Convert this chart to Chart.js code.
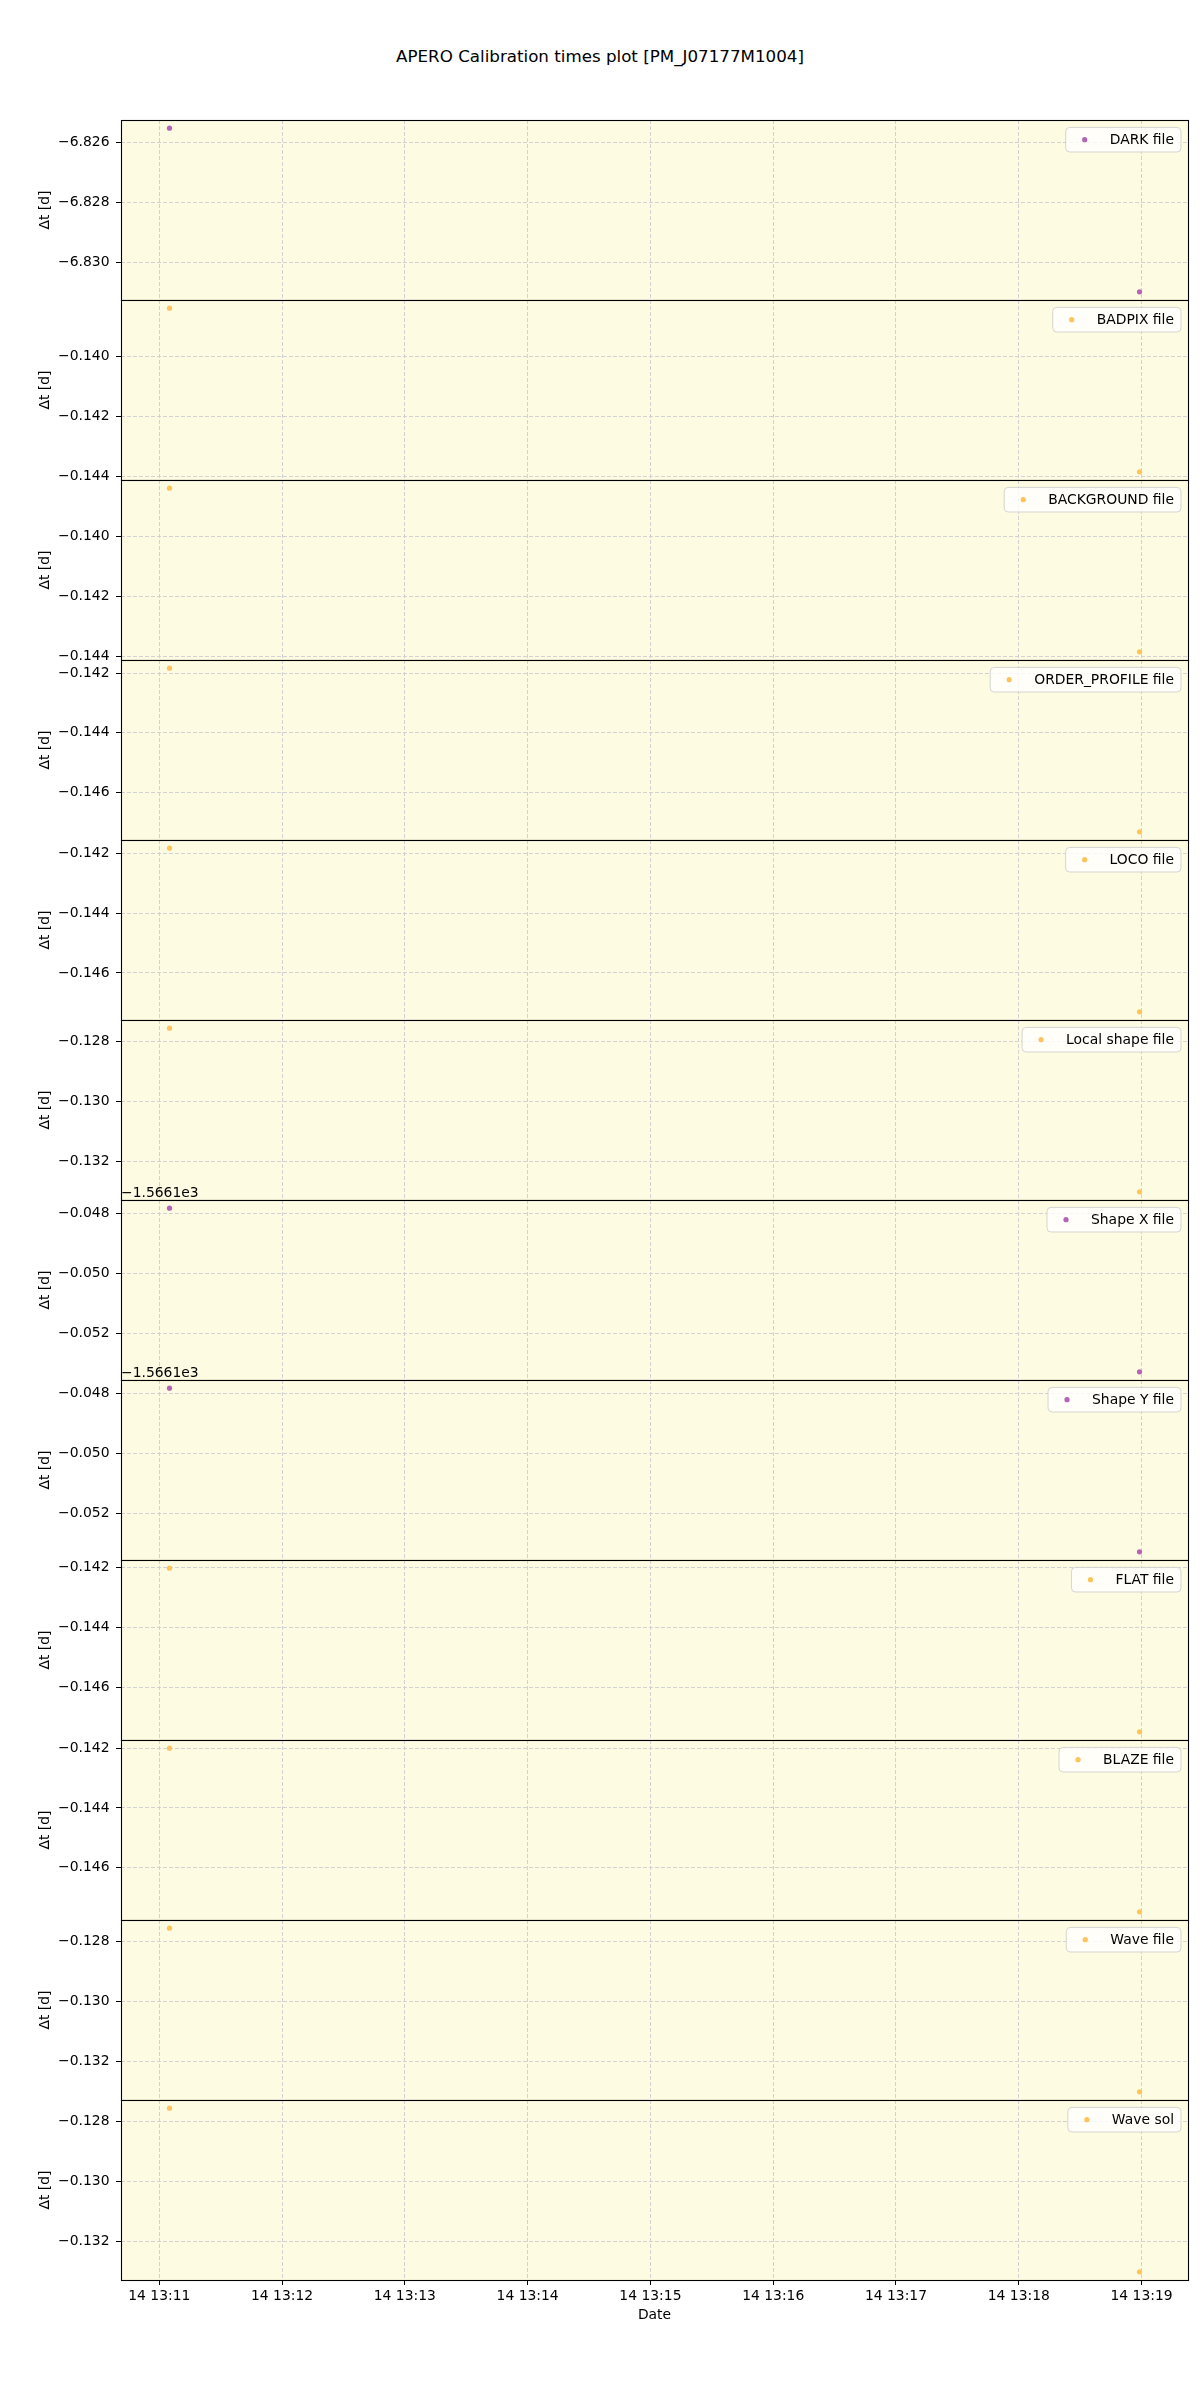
<!doctype html>
<html lang="en">
  <head>
    <title>APERO Calibration times plot</title>
    <meta charset="utf-8" />
    <style>
      body {
        margin: 0;
        background: #ffffff;
      }
      #page {
        position: relative;
        width: 1200px;
        height: 2400px;
      }
      #title {
        position: absolute;
        top: 45px;
        left: 0;
        width: 1200px;
        text-align: center;
        font-family: "DejaVu Sans", sans-serif;
        font-size: 16.7px;
        line-height: 22px;
        color: #000;
      }
      canvas {
        position: absolute;
        left: 0;
      }
    </style>
  </head>

  <body>
    <div id="page">
      <div id="title">APERO Calibration times plot [PM_J07177M1004]</div>
    </div>

    <script src="https://cdn.jsdelivr.net/npm/chart.js@4.4.1/dist/chart.umd.min.js"></script>
    <script>
      // one panel per calibration file, two observations each
      const fileLabels = [
        "DARK file", "BADPIX file", "BACKGROUND file", "ORDER_PROFILE file",
        "LOCO file", "Local shape file", "Shape X file", "Shape Y file",
        "FLAT file", "BLAZE file", "Wave file", "Wave sol",
      ];
      const markerColors = [
        "#b464b4", "#fdc45c", "#fdc45c", "#fdc45c",
        "#fdc45c", "#fdc45c", "#b464b4", "#b464b4",
        "#fdc45c", "#fdc45c", "#fdc45c", "#fdc45c",
      ];
      const pointTimes = ["13:11:05", "13:18:59"];
      const firstDt = [
        -6.82551, -0.13838, -0.13838, -0.14183,
        -0.14183, -0.12755, -1566.14783, -1566.14783,
        -0.14202, -0.14200, -0.12755, -0.12755,
      ];
      const lastDt = [
        -6.83099, -0.14384, -0.14384, -0.14733,
        -0.14730, -0.13302, -1566.15328, -1566.15328,
        -0.14749, -0.14748, -0.13300, -0.13300,
      ];
      const yTickLabels = [
        ["−6.826", "−6.828", "−6.830"],
        ["−0.140", "−0.142", "−0.144"],
        ["−0.140", "−0.142", "−0.144"],
        ["−0.142", "−0.144", "−0.146"],
        ["−0.142", "−0.144", "−0.146"],
        ["−0.128", "−0.130", "−0.132"],
        ["−0.048", "−0.050", "−0.052"],
        ["−0.048", "−0.050", "−0.052"],
        ["−0.142", "−0.144", "−0.146"],
        ["−0.142", "−0.144", "−0.146"],
        ["−0.128", "−0.130", "−0.132"],
        ["−0.128", "−0.130", "−0.132"],
      ];
      const yOffsets = [0, 0, 0, 0, 0, 0, -1566.1, -1566.1, 0, 0, 0, 0];
      const offsetTexts = ["", "", "", "", "", "", "−1.5661e3", "−1.5661e3", "", "", "", ""];
      const xTickLabels = [
        "14 13:11", "14 13:12", "14 13:13", "14 13:14", "14 13:15",
        "14 13:16", "14 13:17", "14 13:18", "14 13:19",
      ];

      const PANEL_TOP = 120;
      const PANEL_H = 180;
      const PAD = 20;
      const X_AXIS_H = 60;
      const PANEL_BG = "#fdfbe1";
      const GRID = "#d2d2d2";
      const FONT = { family: "DejaVu Sans", size: 13.9 };

      const toNum = (s) => parseFloat(s.replace("−", "-"));
      const toSec = (s) => {
        const p = s.split(":").map(Number);
        return p[0] * 3600 + p[1] * 60 + (p[2] || 0);
      };

      const xs = pointTimes.map(toSec);
      const xPad = (xs[1] - xs[0]) * 0.05;
      const xMin = xs[0] - xPad;
      const xMax = xs[1] + xPad;
      const xTickVals = xTickLabels.map((l) => toSec(l.split(" ")[1]));

      const panelDeco = {
        id: "panelDeco",
        beforeDraw(chart) {
          const { ctx, chartArea: a } = chart;
          ctx.save();
          ctx.fillStyle = PANEL_BG;
          ctx.fillRect(a.left, a.top, a.right - a.left, a.bottom - a.top);
          ctx.restore();
        },
        afterDraw(chart, args, opts) {
          const { ctx, chartArea: a } = chart;
          ctx.save();
          // frame
          ctx.strokeStyle = "#000";
          ctx.lineWidth = 1.1;
          ctx.strokeRect(Math.round(a.left) + 0.5, Math.round(a.top) + 0.5,
            Math.round(a.right - a.left), Math.round(a.bottom - a.top));

          ctx.font = '13.9px "DejaVu Sans"';
          ctx.fillStyle = "#000";
          // scientific offset above the axis
          if (opts.offsetText) {
            ctx.textAlign = "left";
            ctx.textBaseline = "alphabetic";
            ctx.fillText(opts.offsetText, a.left, a.top - 3.5);
          }

          // legend box, upper right
          const tw = ctx.measureText(opts.label).width;
          const w = tw + 51;
          const h = 24.6;
          const x0 = a.right - 7 - w;
          const y0 = a.top + 7.4;
          const r = 4;
          ctx.beginPath();
          ctx.moveTo(x0 + r, y0);
          ctx.arcTo(x0 + w, y0, x0 + w, y0 + h, r);
          ctx.arcTo(x0 + w, y0 + h, x0, y0 + h, r);
          ctx.arcTo(x0, y0 + h, x0, y0, r);
          ctx.arcTo(x0, y0, x0 + w, y0, r);
          ctx.closePath();
          ctx.fillStyle = "rgba(255,255,255,0.8)";
          ctx.fill();
          ctx.strokeStyle = "rgba(204,204,204,0.8)";
          ctx.lineWidth = 1;
          ctx.stroke();

          const cy = y0 + h / 2;
          ctx.beginPath();
          ctx.arc(x0 + 19, cy, 2.6, 0, Math.PI * 2);
          ctx.fillStyle = opts.color;
          ctx.fill();

          ctx.fillStyle = "#000";
          ctx.textAlign = "left";
          ctx.textBaseline = "middle";
          ctx.fillText(opts.label, x0 + 44, cy + 0.5);
          ctx.restore();
        },
      };

      const page = document.getElementById("page");

      fileLabels.forEach((label, i) => {
        const last = i === fileLabels.length - 1;
        const canvas = document.createElement("canvas");
        canvas.width = 1200;
        canvas.height = PAD + PANEL_H + (last ? X_AXIS_H : PAD);
        canvas.style.top = PANEL_TOP + i * PANEL_H - PAD + "px";
        page.appendChild(canvas);

        const ys = [firstDt[i], lastDt[i]];
        const lo = Math.min(...ys);
        const hi = Math.max(...ys);
        const yPad = (hi - lo) * 0.05;
        const yTickVals = yTickLabels[i].map((t) => yOffsets[i] + toNum(t));

        new Chart(canvas, {
          type: "scatter",
          data: {
            datasets: [
              {
                label: label,
                data: xs.map((x, k) => ({ x: x, y: ys[k] })),
                backgroundColor: markerColors[i],
                borderWidth: 0,
                pointRadius: 2.6,
              },
            ],
          },
          options: {
            responsive: false,
            animation: false,
            events: [],
            layout: {
              padding: { left: 0, right: 12, top: PAD, bottom: last ? 0 : PAD },
            },
            plugins: {
              legend: { display: false },
              tooltip: { enabled: false },
              panelDeco: {
                label: label,
                color: markerColors[i],
                offsetText: offsetTexts[i],
              },
            },
            scales: {
              x: {
                type: "linear",
                min: xMin,
                max: xMax,
                afterBuildTicks: (s) => {
                  s.ticks = xTickVals.map((v) => ({ value: v }));
                },
                afterFit: (s) => {
                  s.height = last ? X_AXIS_H : 0;
                },
                border: { display: false, dash: [4, 2] },
                grid: {
                  color: GRID,
                  lineWidth: 1,
                  drawTicks: last,
                  tickLength: 5,
                  tickColor: "#000",
                  tickBorderDash: [],
                },
                ticks: {
                  display: last,
                  autoSkip: false,
                  maxRotation: 0,
                  padding: 3,
                  color: "#000",
                  font: FONT,
                  callback: (v, k) => xTickLabels[k],
                },
                title: {
                  display: last,
                  text: "Date",
                  color: "#000",
                  font: FONT,
                  padding: { top: 0, bottom: 16.7 },
                },
              },
              y: {
                min: lo - yPad,
                max: hi + yPad,
                afterBuildTicks: (s) => {
                  s.ticks = yTickVals.map((v) => ({ value: v }));
                },
                afterFit: (s) => {
                  s.width = 121;
                },
                border: { display: false, dash: [4, 2] },
                grid: {
                  color: GRID,
                  lineWidth: 1,
                  tickLength: 5,
                  tickColor: "#000",
                  tickBorderDash: [],
                },
                ticks: {
                  padding: 6.5,
                  color: "#000",
                  font: FONT,
                  callback: (v, k) => yTickLabels[i][k],
                },
                title: {
                  display: true,
                  text: "Δt [d]",
                  color: "#000",
                  font: FONT,
                  padding: { top: 37, bottom: 0 },
                },
              },
            },
          },
          plugins: [panelDeco],
        });
      });
    </script>
  </body>
</html>
